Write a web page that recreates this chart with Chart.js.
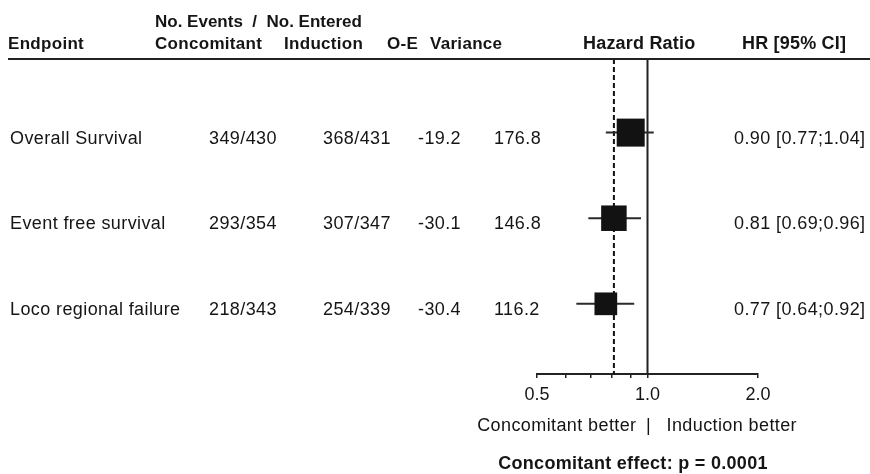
<!DOCTYPE html>
<html><head><meta charset="utf-8">
<script src="https://cdn.jsdelivr.net/npm/chart.js@4"></script>
<style>html,body{margin:0;padding:0;background:#fff;} #wrap{width:870px;height:474px;position:relative}</style>
</head><body><div id="wrap"><canvas id="c" width="870" height="474"></canvas></div>
<script>
// ---- data ----
const endpoints = ['Overall Survival', 'Event free survival', 'Loco regional failure'];
const eventsConcomitant = ['349/430', '293/354', '218/343'];
const eventsInduction = ['368/431', '307/347', '254/339'];
const oMinusE = [-19.2, -30.1, -30.4];
const variance = [176.8, 146.8, 116.2];
const hazardRatio = [0.90, 0.81, 0.77];
const ciLower = [0.77, 0.69, 0.64];
const ciUpper = [1.04, 0.96, 0.92];
const overallHR = 0.81;
const noEffectHR = 1.0;
const xTickValues = [0.5, 0.6, 0.7, 0.8, 0.9, 1.0, 2.0];
const xTickLabels = ['0.5', '', '', '', '', '1.0', '2.0'];
const headerTop = 'No. Events  /  No. Entered';
const headers = ['Endpoint', 'Concomitant', 'Induction', 'O-E', 'Variance', 'Hazard Ratio', 'HR [95% CI]'];
const betterLeft = 'Concomitant better';
const betterRight = 'Induction better';
const pValueText = 'Concomitant effect: p = 0.0001';

// ---- chart ----
const FONT = '"Liberation Sans", Arial, sans-serif';
const INK = '#151515';
const Y_MIN = 0.14, Y_MAX = 3.82;
Chart.defaults.font.family = FONT;

const rows = endpoints.map((_, i) => i + 1);
const datasets = [];
datasets.push({
  label: 'HR',
  data: hazardRatio.map((v, i) => ({ x: v, y: rows[i] })),
  pointStyle: 'rect',
  pointRadius: variance.map(v => 19.8 * Math.sqrt(v / variance[0])),
  pointHoverRadius: variance.map(v => 19.8 * Math.sqrt(v / variance[0])),
  backgroundColor: '#121212',
  borderColor: '#121212',
  borderWidth: 0,
  showLine: false
});
rows.forEach((r, i) => {
  datasets.push({
    label: 'CI ' + endpoints[i],
    data: [{ x: ciLower[i], y: r }, { x: ciUpper[i], y: r }],
    showLine: true, pointRadius: 0, borderColor: '#2a2a2a', borderWidth: 2
  });
});
datasets.push({
  label: 'dashed',
  data: [{ x: overallHR, y: Y_MIN }, { x: overallHR, y: Y_MAX }],
  showLine: true, pointRadius: 0, borderColor: '#111', borderWidth: 2, borderDash: [5, 3]
});
datasets.push({
  label: 'ref',
  data: [{ x: noEffectHR, y: Y_MIN }, { x: noEffectHR, y: Y_MAX }],
  showLine: true, pointRadius: 0, borderColor: '#222', borderWidth: 2
});

const textPlugin = {
  id: 'forestText',
  afterDraw(chart) {
    const ctx = chart.ctx;
    const ys = chart.scales.y, xs = chart.scales.x;
    ctx.save();
    ctx.fillStyle = INK;
    ctx.textBaseline = 'alphabetic';
    // header rule
    ctx.strokeStyle = '#222';
    ctx.lineWidth = 2;
    ctx.beginPath();
    ctx.moveTo(8, chart.chartArea.top);
    ctx.lineTo(870, chart.chartArea.top);
    ctx.stroke();
    // headers
    ctx.font = 'bold 17px ' + FONT;
    ctx.letterSpacing = '0px';
    ctx.textAlign = 'left';
    ctx.fillText(headerTop, 155, 27);
    ctx.letterSpacing = '0.3px';
    const hx = [8, 155, 284, 387, 430];
    hx.forEach((x, i) => ctx.fillText(headers[i], x, 49));
    ctx.font = 'bold 18px ' + FONT;
    ctx.letterSpacing = '0.2px';
    ctx.fillText(headers[5], 583, 49);
    ctx.fillText(headers[6], 742, 49);
    // rows
    ctx.font = '18px ' + FONT;
    ctx.letterSpacing = '0.4px';
    rows.forEach((r, i) => {
      const y = ys.getPixelForValue(r) + 11;
      ctx.fillText(endpoints[i], 10, y);
      ctx.fillText(eventsConcomitant[i], 209, y);
      ctx.fillText(eventsInduction[i], 323, y);
      ctx.fillText(oMinusE[i].toFixed(1), 418, y);
      ctx.fillText(variance[i].toFixed(1), 494, y);
      ctx.fillText(hazardRatio[i].toFixed(2) + ' [' + ciLower[i].toFixed(2) + ';' + ciUpper[i].toFixed(2) + ']', 734, y);
    });
    // bottom captions
    const x1 = xs.getPixelForValue(noEffectHR);
    ctx.textAlign = 'right';
    ctx.fillText(betterLeft, x1 - 11, 431);
    ctx.textAlign = 'center';
    ctx.fillText('|', x1 + 1, 431);
    ctx.textAlign = 'left';
    ctx.fillText(betterRight, x1 + 19, 431);
    ctx.font = 'bold 18px ' + FONT;
    ctx.letterSpacing = '0.3px';
    ctx.textAlign = 'center';
    ctx.fillText(pValueText, 633, 469);
    ctx.restore();
  }
};

new Chart(document.getElementById('c'), {
  type: 'scatter',
  data: { datasets },
  options: {
    responsive: false,
    animation: false,
    events: [],
    layout: { padding: { left: 537, right: 112, top: 59, bottom: 0 } },
    plugins: { legend: { display: false }, tooltip: { enabled: false } },
    scales: {
      x: {
        type: 'logarithmic',
        min: 0.5, max: 2,
        afterBuildTicks: (s) => { s.ticks = xTickValues.map(v => ({ value: v })); },
        afterFit: (s) => { s.height = 100; },
        ticks: {
          autoSkip: false, maxRotation: 0, minRotation: 0,
          padding: 6, color: INK, font: { size: 18, family: FONT },
          callback: (v, i) => xTickLabels[i]
        },
        grid: { drawOnChartArea: false, drawTicks: true, tickLength: 4, color: '#222', lineWidth: 1.5 },
        border: { display: true, color: '#222', width: 2 }
      },
      y: {
        type: 'linear', reverse: true, min: Y_MIN, max: Y_MAX, display: false
      }
    }
  },
  plugins: [textPlugin]
});
</script></body></html>
